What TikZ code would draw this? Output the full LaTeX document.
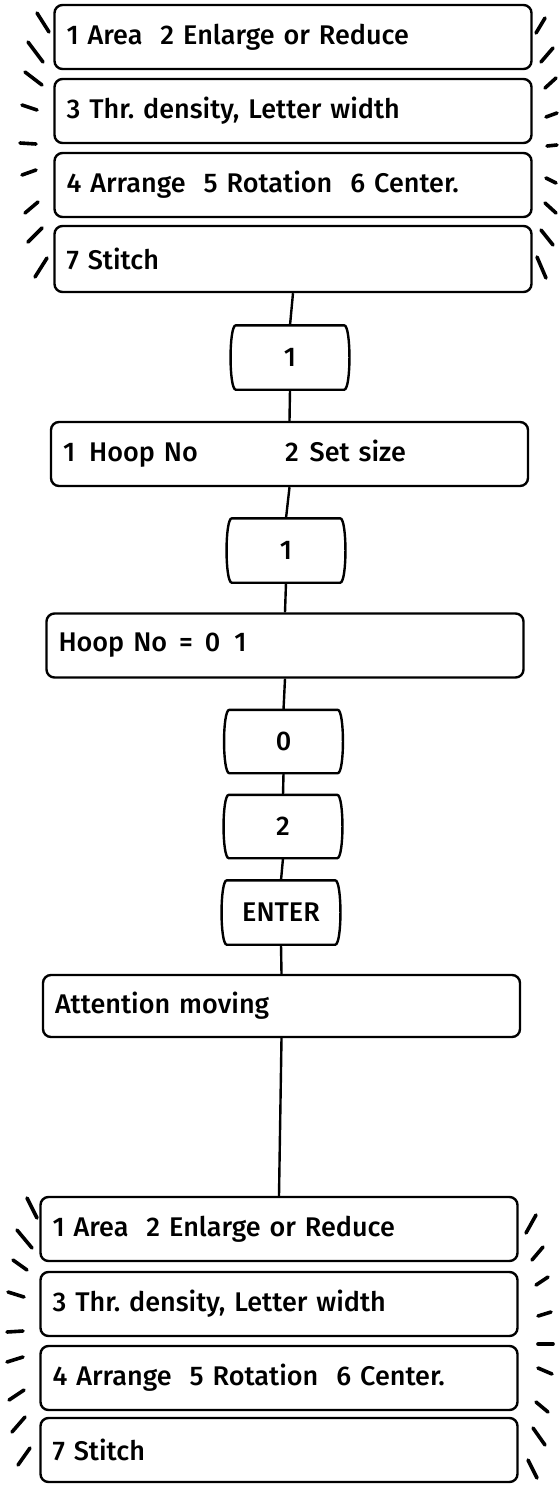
\documentclass[tikz,border=0pt]{standalone}
\usepackage{fontspec}
\IfFontExistsTF{Fira Sans Medium}
  {\setmainfont{Fira Sans Medium}}
  {\IfFontExistsTF{FiraSans-Medium.otf}
    {\setmainfont{FiraSans-Medium.otf}}
    {\setmainfont{Fira Sans}[FakeBold=1.2]}}
\newcommand{\menufont}{\fontsize{27}{31}\selectfont}
\newcommand{\keyoutline}[1]{%
  \draw[keyline] (#1.north west) -- (#1.north east)
    .. controls ([xshift=7pt]#1.north east) and ([xshift=7pt]#1.south east) .. (#1.south east)
    -- (#1.south west)
    .. controls ([xshift=-7pt]#1.south west) and ([xshift=-7pt]#1.north west) .. (#1.north west) -- cycle;}
\tikzset{
  menubox/.style={draw, line width=2.4pt, rounded corners=8pt,
    minimum height=64pt, text width=453pt, inner xsep=12pt,
    align=left, font=\menufont},
  keycap/.style={minimum width=108pt, minimum height=64pt,
    inner sep=0pt, font=\menufont},
  keyline/.style={line width=2.4pt, line join=round},
  link/.style={line width=2.4pt},
  glow/.style={line width=3.6pt, line cap=round},
}
\frenchspacing
\begin{document}
\begin{tikzpicture}[x=1pt, y=-1pt]
  \fill[white] (0,0) rectangle (558,1486);
  \useasboundingbox (0,0) rectangle (558,1486);

  % menu shown before
  \node[menubox] (ta) at (293,37) {1 Area\ \ 2 Enlarge or Reduce};
  \node[menubox] (tb) at (293,111) {3 Thr. density, Letter width};
  \node[menubox] (tc) at (293,185) {4 Arrange\ \ 5 Rotation\ \ 6 Center.};
  \node[menubox, minimum height=66pt] (td) at (293,259) {7 Stitch};
  \foreach \xa/\ya/\xb/\yb in {37/13/49/32, 28/42/43/62, 25/72/42/85,
      22/105/37/110, 20/143/36/144, 22/175/36/170, 25/213/38/202,
      28/242/42/228, 35/277/47/258,
      536/33/545/18, 541/62/553/48, 545/88/556/78, 546/117/557/113,
      547/146/557/145, 546/178/556/183, 545/203/556/213,
      541/230/553/245, 537/257/546/278}
    \draw[glow] (\xa,\ya) -- (\xb,\yb);

  % key steps
  \node[keycap] (k1) at (290,357.5) {1};
  \keyoutline{k1}
  \node[menubox] (hoop) at (289.5,454)
    {\makebox[222pt][l]{1\hspace{14pt}Hoop No}2\hspace{11pt}Set size};
  \node[keycap] (k2) at (286,550.5) {1};
  \keyoutline{k2}
  \node[menubox] (hoopno) at (285,645.5)
    {Hoop No\hspace{12pt}=\hspace{12pt}0\hspace{14pt}1};
  \node[keycap, minimum height=63pt] (k3) at (283.5,741.5) {0};
  \keyoutline{k3}
  \node[keycap, minimum height=63pt] (k4) at (283,826.5) {2};
  \keyoutline{k4}
  \node[keycap] (k5) at (281,912.5) {ENTER};
  \keyoutline{k5}
  \node[menubox, minimum height=62pt] (att) at (281.5,1006) {Attention moving};

  % menu shown after
  \node[menubox] (ba) at (279,1229) {1 Area\ \ 2 Enlarge or Reduce};
  \node[menubox] (bb) at (279,1304) {3 Thr. density, Letter width};
  \node[menubox] (bc) at (279,1378) {4 Arrange\ \ 5 Rotation\ \ 6 Center.};
  \node[menubox] (bd) at (279,1450) {7 Stitch};
  \foreach \xa/\ya/\xb/\yb in {27/1198/37/1218, 17/1230/32/1248,
      13/1260/27/1270, 8/1292/24/1297, 7/1332/23/1331, 7/1362/23/1357,
      9/1400/24/1390, 12/1432/25/1417, 18/1465/30/1448,
      526/1233/536/1215, 532/1260/543/1247, 536/1285/548/1277,
      538/1316/551/1312, 538/1344/553/1344, 538/1368/552/1374,
      536/1402/548/1412, 533/1428/545/1445, 528/1460/537/1478}
    \draw[glow] (\xa,\ya) -- (\xb,\yb);

  % connectors
  \draw[link] (td.south) -- (k1.north);
  \draw[link] (k1.south) -- (hoop.north);
  \draw[link] (hoop.south) -- (k2.north);
  \draw[link] (k2.south) -- (hoopno.north);
  \draw[link] (hoopno.south) -- (k3.north);
  \draw[link] (k3.south) -- (k4.north);
  \draw[link] (k4.south) -- (k5.north);
  \draw[link] (k5.south) -- (att.north);
  \draw[link] (att.south) -- (ba.north);
\end{tikzpicture}
\end{document}
